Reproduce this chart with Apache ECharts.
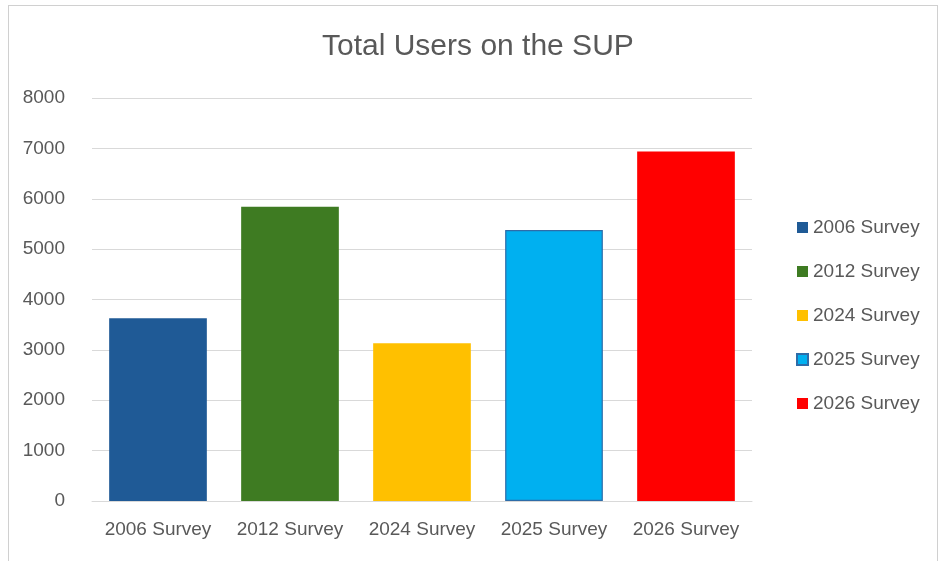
<!DOCTYPE html>
<html>
<head>
<meta charset="utf-8">
<script src="https://cdn.jsdelivr.net/npm/echarts@6/dist/echarts.min.js"></script>
<style>
html,body{margin:0;padding:0;background:#fff;}
#frame{position:absolute;left:8px;top:5px;width:930px;height:560px;border:1px solid #d0d0d0;box-sizing:border-box;}
#chart{position:absolute;left:0;top:0;width:940px;height:561px;}
</style>
</head>
<body>
<div id="frame"></div>
<div id="chart"></div>
<script>
var categories = ['2006 Survey', '2012 Survey', '2024 Survey', '2025 Survey', '2026 Survey'];
var values = [3630, 5840, 3130, 5380, 6940];
var colors = ['#1f5a96', '#3e7b22', '#ffc000', '#00b0f0', '#ff0000'];
var yTicks = [0, 1000, 2000, 3000, 4000, 5000, 6000, 7000, 8000];

var FONT = '"Liberation Sans Narrow", "Arial Narrow", "Liberation Sans", sans-serif';
var chart = echarts.init(document.getElementById('chart'));

var series = categories.map(function (name, i) {
  return {
    name: name,
    type: 'bar',
    barWidth: '74%',
    barGap: '-100%',
    itemStyle: {
      color: colors[i],
      borderColor: i === 3 ? '#2e6ca8' : colors[i],
      borderWidth: i === 3 ? 1.2 : 0
    },
    data: categories.map(function (c, j) { return j === i ? values[i] : '-'; })
  };
});

chart.setOption({
  animation: false,
  title: {
    text: 'Total Users on the SUP',
    left: 317,
    top: 27,
    textStyle: { fontFamily: FONT, fontSize: 30, fontWeight: 'normal', color: '#595959' }
  },
  legend: {
    orient: 'vertical',
    left: 791,
    top: 213,
    itemGap: 25,
    itemWidth: 11,
    itemHeight: 11,
    icon: 'rect',
    textStyle: { fontFamily: FONT, fontSize: 19, color: '#595959', padding: [0, 0, 0, 0] },
    data: categories
  },
  grid: { left: 92, right: 188, top: 98, bottom: 60, containLabel: false },
  xAxis: {
    type: 'category',
    data: categories,
    axisLine: { lineStyle: { color: '#d9d9d9', width: 1 } },
    axisTick: { show: false },
    axisLabel: { interval: 0, hideOverlap: false, fontFamily: FONT, fontSize: 19, color: '#595959', margin: 19 }
  },
  yAxis: {
    type: 'value',
    min: yTicks[0],
    max: yTicks[yTicks.length - 1],
    interval: 1000,
    axisLine: { show: false },
    axisTick: { show: false },
    splitLine: { lineStyle: { color: '#d9d9d9', width: 1 } },
    axisLabel: {
      fontFamily: FONT, fontSize: 19, color: '#595959', margin: 27,
      formatter: function (v) { return String(v); }
    }
  },
  series: series
});
</script>
</body>
</html>
